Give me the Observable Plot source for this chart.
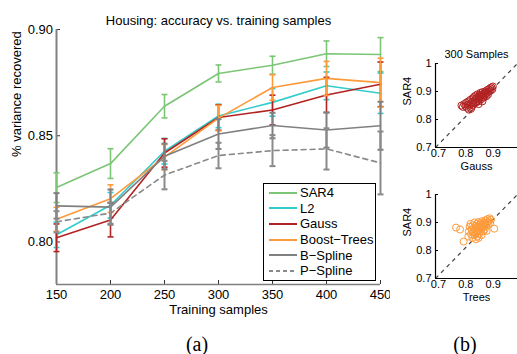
<!DOCTYPE html>
<html><head><meta charset="utf-8">
<script src="https://cdn.jsdelivr.net/npm/d3@7"></script>
<script src="https://cdn.jsdelivr.net/npm/@observablehq/plot@0.6"></script>
<style>
body{margin:0;background:#fff;}
#root{position:relative;width:517px;height:354px;overflow:hidden;background:#fff;font-family:"Liberation Sans",Arial,Helvetica,sans-serif;}
#root > svg{position:absolute;}
.lbl{position:absolute;font-family:"Liberation Serif","Times New Roman",serif;font-size:20px;transform:translate(-50%,-50%);white-space:nowrap;}
#legend{position:absolute;left:263px;top:183px;width:111px;height:95px;border:1px solid #000;background:#fff;padding-top:1px;font-size:13px;color:#000;}
.row{height:15.6px;display:flex;align-items:center;white-space:nowrap;}
.row svg{margin-left:5px;margin-right:3px;flex:none;}
</style></head><body><div id="root"></div>
<script>
// ---- data ----
const samples = [150, 200, 250, 300, 350, 400, 450];
const sar4      = [0.8256, 0.8369, 0.8639, 0.8793, 0.8832, 0.8886, 0.8882];
const sar4Err   = [0.0070, 0.0070, 0.0055, 0.0040, 0.0042, 0.0060, 0.0080];
const l2        = [0.8034, 0.8173, 0.8427, 0.8593, 0.8657, 0.8735, 0.8700];
const l2Err     = [0.0060, 0.0060, 0.0060, 0.0055, 0.0065, 0.0065, 0.0095];
const gauss     = [0.8020, 0.8104, 0.8419, 0.8586, 0.8621, 0.8692, 0.8742];
const gaussErr  = [0.0065, 0.0080, 0.0067, 0.0060, 0.0070, 0.0083, 0.0105];
const trees     = [0.8107, 0.8204, 0.8399, 0.8583, 0.8727, 0.8770, 0.8750];
const treesErr  = [0.0056, 0.0065, 0.0060, 0.0060, 0.0060, 0.0080, 0.0115];
const bspline   = [0.8170, 0.8164, 0.8403, 0.8508, 0.8548, 0.8527, 0.8547];
const bsplineErr= [0.0060, 0.0083, 0.0060, 0.0070, 0.0060, 0.0083, 0.0113];
const pspline   = [0.8095, 0.8136, 0.8315, 0.8407, 0.8430, 0.8438, 0.8372];
const psplineErr= [0.0050, 0.0050, 0.0067, 0.0060, 0.0073, 0.0097, 0.0148];

const seriesNames = ["SAR4", "L2", "Gauss", "Boost\u2212Trees", "B\u2212Spline", "P\u2212Spline"];
const seriesValues = [sar4, l2, gauss, trees, bspline, pspline];
const seriesErrors = [sar4Err, l2Err, gaussErr, treesErr, bsplineErr, psplineErr];
const seriesColors = ["#7cc576", "#33cccc", "#b22222", "#fd9a3a", "#808080", "#8a8a8a"];
const seriesDash = [null, null, null, null, null, "5,4"];

const yTicks = [0.80, 0.85, 0.90];
const xDomain = [150, 450];
const yDomain = [0.78, 0.90];

const titleText = "Housing: accuracy vs. training samples";
const xLabel = "Training samples";
const yLabel = "% variance recovered";

// scatter panels (b)
const gaussX = [0.795,0.800,0.805,0.810,0.812,0.815,0.818,0.820,0.822,0.825,0.827,0.830,0.832,0.835,0.836,0.838,0.840,0.842,0.845,0.846,0.848,0.850,0.852,0.853,0.855,0.857,0.858,0.860,0.862,0.864,0.865,0.867,0.869,0.870,0.872,0.874,0.876,0.878,0.880,0.882,0.884,0.886,0.888,0.890,0.892,0.895,0.897,0.900,0.902,0.905,0.908,0.910,0.830,0.858,0.872];
const gaussSar = [0.850,0.845,0.855,0.848,0.860,0.842,0.853,0.865,0.835,0.850,0.870,0.858,0.845,0.875,0.863,0.852,0.880,0.868,0.858,0.885,0.873,0.862,0.878,0.890,0.870,0.882,0.865,0.888,0.876,0.895,0.884,0.872,0.890,0.880,0.898,0.887,0.878,0.893,0.885,0.900,0.892,0.883,0.905,0.896,0.889,0.908,0.900,0.912,0.903,0.915,0.908,0.918,0.838,0.855,0.865];
const treesX = [0.775,0.790,0.803,0.915,0.820,0.822,0.825,0.828,0.830,0.832,0.835,0.836,0.838,0.840,0.842,0.843,0.845,0.847,0.848,0.850,0.851,0.853,0.854,0.856,0.857,0.858,0.860,0.861,0.862,0.864,0.865,0.866,0.868,0.869,0.870,0.872,0.873,0.875,0.876,0.878,0.880,0.882,0.883,0.885,0.887,0.889,0.890,0.892,0.895,0.898,0.900,0.903,0.848,0.858];
const treesSar = [0.882,0.875,0.832,0.878,0.850,0.868,0.885,0.895,0.858,0.875,0.845,0.890,0.865,0.880,0.900,0.855,0.872,0.888,0.862,0.895,0.878,0.850,0.868,0.885,0.902,0.873,0.860,0.892,0.880,0.868,0.898,0.886,0.875,0.855,0.905,0.882,0.893,0.868,0.900,0.885,0.875,0.895,0.908,0.888,0.870,0.900,0.912,0.892,0.905,0.915,0.898,0.910,0.840,0.845];
const scDomain = [0.7, 1.0];
const scYTicks = [0.7, 0.8, 0.9, 1.0];
const scXTicks = [0.7, 0.8, 0.9];
const scTitle = "300 Samples";
const scYLabel = "SAR4";
const scXLabels = ["Gauss", "Trees"];
const panelLabels = ["(a)", "(b)"];

// ---- drawing ----
const FONT = '"Liberation Sans", Arial, Helvetica, sans-serif';
const axisGray = "#808080";
const root = document.getElementById("root");

const capSymbol = {
  draw(context, size) {
    const w = Math.sqrt(size / Math.PI);
    context.moveTo(-w, 0);
    context.lineTo(w, 0);
  }
};

const seriesMarks = [];
seriesNames.forEach((name, i) => {
  const rows = samples.map((n, j) => ({n, v: seriesValues[i][j], e: seriesErrors[i][j]}));
  const c = seriesColors[i];
  const gray = i >= 4;
  const sw = gray ? 2 : 1.6;
  seriesMarks.push(Plot.line(rows, {x: "n", y: "v", stroke: c, strokeWidth: 1.6, strokeDasharray: seriesDash[i] || undefined}));
  seriesMarks.push(Plot.ruleX(rows, {x: "n", y1: d => d.v - d.e, y2: d => d.v + d.e, stroke: c, strokeWidth: sw}));
  seriesMarks.push(Plot.dot(rows, {x: "n", y: d => d.v - d.e, symbol: capSymbol, r: 3, stroke: c, fill: "none", strokeWidth: sw}));
  seriesMarks.push(Plot.dot(rows, {x: "n", y: d => d.v + d.e, symbol: capSymbol, r: 3, stroke: c, fill: "none", strokeWidth: sw}));
});

const main = Plot.plot({
  width: 390, height: 320,
  marginLeft: 56, marginRight: 10, marginTop: 29, marginBottom: 36,
  style: {fontFamily: FONT, fontSize: "13px", background: "transparent", color: "#000"},
  x: {domain: xDomain},
  y: {domain: yDomain},
  marks: [
    Plot.axisX({ticks: samples, tickSize: 0, tickPadding: 5, label: null, tickFormat: d => String(d), fontSize: 13}),
    Plot.axisX({ticks: samples, tickSize: 4, dy: -4, label: null, tickFormat: () => "", stroke: "#333"}),
    Plot.axisY({ticks: yTicks, tickSize: 0, tickPadding: 3.5, label: null, tickFormat: d => d.toFixed(2), fontSize: 13}),
    Plot.axisY({ticks: yTicks, tickSize: 4, dx: 4, label: null, tickFormat: () => "", stroke: "#333"}),
    Plot.ruleX([xDomain[0]], {stroke: axisGray, strokeWidth: 2}),
    Plot.ruleY([yDomain[0]], {stroke: axisGray, strokeWidth: 1.5}),
    ...seriesMarks,
    Plot.text([titleText], {text: d => d, frameAnchor: "top", dy: -14, fontSize: 13}),
    Plot.text([xLabel], {text: d => d, frameAnchor: "bottom", dy: 29, fontSize: 13}),
    Plot.text([yLabel], {text: d => d, frameAnchor: "left", dx: -40, rotate: -90, fontSize: 13})
  ]
});
main.style.left = "0px"; main.style.top = "0px";
root.appendChild(main);

// legend
const legend = document.createElement("div");
legend.id = "legend";
seriesNames.forEach((name, i) => {
  const row = document.createElement("div");
  row.className = "row";
  const dash = seriesDash[i] ? `stroke-dasharray="4,3"` : "";
  row.innerHTML = `<svg width="28" height="10"><line x1="0" y1="5" x2="28" y2="5" stroke="${seriesColors[i]}" stroke-width="2" ${dash}/></svg><span>${name}</span>`;
  legend.appendChild(row);
});
root.appendChild(legend);

const fmtSc = d => (d === 1 ? "1" : d.toFixed(1));
function scatter(xs, ys, xLab, color, title, top) {
  const pts = xs.map((x, i) => ({x, y: ys[i]}));
  const marks = [
    Plot.axisX({ticks: scXTicks, tickSize: 0, tickPadding: 2, tickFormat: fmtSc, label: null, dx: 3}),
    Plot.axisY({ticks: scYTicks, tickSize: 0, tickPadding: 4, tickFormat: fmtSc, label: null}),
    Plot.axisY({ticks: scYTicks, tickSize: 3, dx: 3, tickFormat: () => "", label: null}),
    Plot.link([scDomain], {x1: d => d[0], y1: d => d[0], x2: d => d[1], y2: d => d[1], stroke: "#444", strokeDasharray: "4,4", strokeWidth: 1.2}),
    Plot.dot(pts, {x: "x", y: "y", r: 3.5, stroke: color, fill: "none", strokeWidth: 1}),
    Plot.ruleX([scDomain[0]], {stroke: "#000", strokeWidth: 1.2}),
    Plot.ruleY([scDomain[0]], {stroke: "#000", strokeWidth: 1.2}),
    Plot.text([xLab], {text: d => d, frameAnchor: "bottom", dy: 22, fontSize: 11}),
    Plot.text([scYLabel], {text: d => d, frameAnchor: "left", dx: -28, rotate: -90, fontSize: 11})
  ];
  if (title) marks.push(Plot.text([title], {text: d => d, frameAnchor: "top", dy: -13, fontSize: 11}));
  const svg = Plot.plot({
    width: 127, height: 135,
    marginLeft: 45, marginRight: 0, marginTop: 23, marginBottom: 28,
    style: {fontFamily: FONT, fontSize: "11px", background: "transparent", color: "#000", overflow: "visible"},
    x: {domain: scDomain}, y: {domain: scDomain},
    marks
  });
  svg.style.left = "390px"; svg.style.top = top + "px";
  root.appendChild(svg);
}
scatter(gaussX, gaussSar, scXLabels[0], "#b22222", scTitle, 40);
scatter(treesX, treesSar, scXLabels[1], "#fd9a3a", null, 171);

[[panelLabels[0], 197, 344], [panelLabels[1], 465, 344]].forEach(([t, x, y]) => {
  const d = document.createElement("div");
  d.className = "lbl"; d.textContent = t;
  d.style.left = x + "px"; d.style.top = y + "px";
  root.appendChild(d);
});
</script></body></html>
